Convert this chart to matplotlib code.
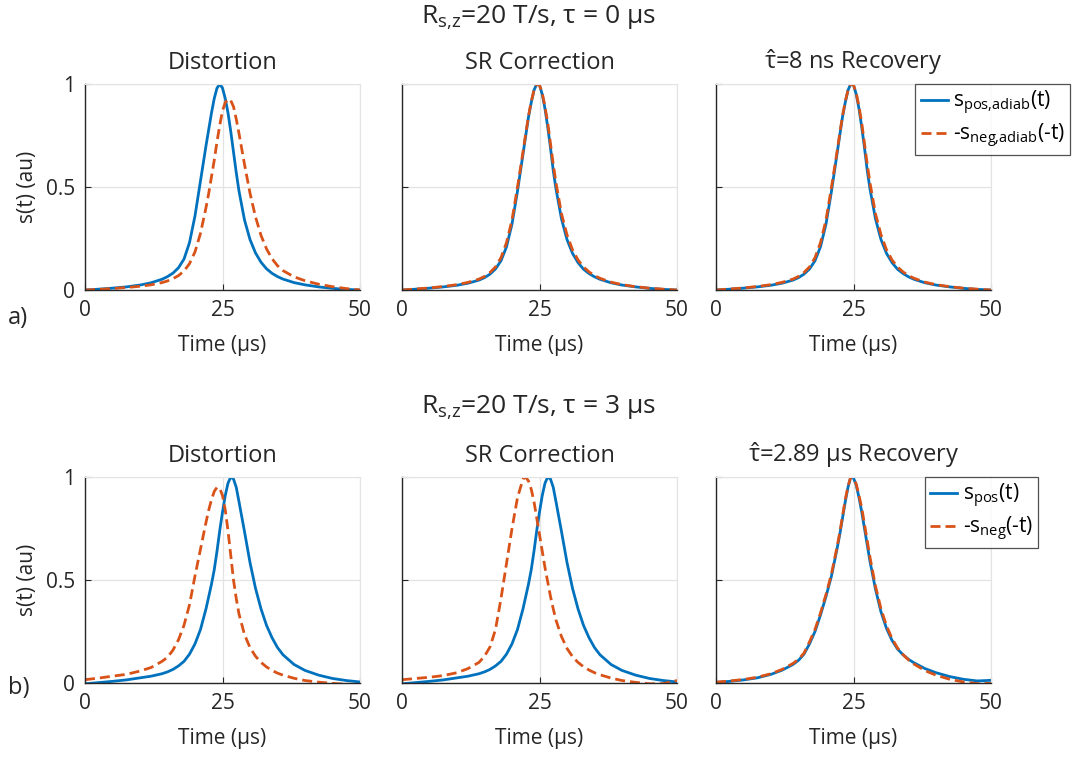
import matplotlib
matplotlib.use("Agg")
import matplotlib.pyplot as plt

plt.rcParams['font.family'] = ['Open Sans', 'DejaVu Sans']
plt.rcParams['mathtext.fontset'] = 'custom'
plt.rcParams['mathtext.rm'] = 'Open Sans'
plt.rcParams['mathtext.it'] = 'Open Sans'
plt.rcParams['mathtext.bf'] = 'Open Sans'

# time axis (us), shared by every curve
t = [0, 2.5, 5, 7.5, 10, 12, 14, 15, 16, 17, 18, 19, 20, 21, 22, 22.5, 23, 23.5, 24, 24.5,
     25, 25.5, 26, 26.5, 27, 27.5, 28, 29, 30, 31, 32, 33, 34, 35, 36, 38, 40, 42.5, 45, 47.5, 50]

# row a) tau = 0 us
a_dist_pos = [0, 0.004, 0.009, 0.015, 0.024, 0.035, 0.052, 0.065, 0.082, 0.108, 0.15, 0.23, 0.36, 0.53,
              0.70, 0.78, 0.86, 0.93, 0.98, 1.0, 0.98, 0.93, 0.86, 0.77, 0.67, 0.57, 0.48, 0.34, 0.245,
              0.18, 0.135, 0.103, 0.081, 0.065, 0.053, 0.036, 0.025, 0.015, 0.008, 0.003, 0]
a_dist_neg = [0, 0.003, 0.007, 0.012, 0.018, 0.025, 0.036, 0.044, 0.055, 0.07, 0.092, 0.128, 0.185, 0.275,
              0.40, 0.47, 0.55, 0.63, 0.72, 0.80, 0.87, 0.91, 0.927, 0.92, 0.89, 0.83, 0.76, 0.61, 0.47,
              0.355, 0.265, 0.2, 0.152, 0.118, 0.094, 0.064, 0.045, 0.028, 0.016, 0.007, 0]
a_sr_pos = [0, 0.004, 0.009, 0.015, 0.023, 0.033, 0.048, 0.06, 0.077, 0.102, 0.142, 0.21, 0.32, 0.48,
            0.66, 0.75, 0.84, 0.91, 0.97, 1.0, 0.995, 0.95, 0.88, 0.79, 0.69, 0.58, 0.49, 0.345, 0.245,
            0.178, 0.133, 0.101, 0.08, 0.064, 0.052, 0.035, 0.024, 0.015, 0.008, 0.003, 0]
a_sr_neg = [0, 0.005, 0.010, 0.017, 0.026, 0.037, 0.053, 0.066, 0.085, 0.112, 0.157, 0.23, 0.34, 0.50,
            0.67, 0.76, 0.845, 0.915, 0.97, 1.0, 0.995, 0.955, 0.89, 0.81, 0.71, 0.61, 0.52, 0.37, 0.268,
            0.195, 0.146, 0.112, 0.088, 0.07, 0.057, 0.038, 0.026, 0.016, 0.009, 0.004, 0]
a_rec_pos = a_sr_pos
a_rec_neg = a_sr_neg

# row b) tau = 3 us
b_dist_pos = [-0.004, 0.002, 0.008, 0.015, 0.025, 0.033, 0.045, 0.054, 0.066, 0.083, 0.105, 0.14, 0.19,
              0.26, 0.36, 0.42, 0.48, 0.55, 0.64, 0.74, 0.83, 0.91, 0.97, 1.0, 0.99, 0.95, 0.88, 0.735,
              0.585, 0.46, 0.36, 0.28, 0.22, 0.172, 0.137, 0.09, 0.061, 0.038, 0.022, 0.012, 0.005]
b_dist_neg = [0.016, 0.024, 0.033, 0.042, 0.058, 0.075, 0.105, 0.125, 0.16, 0.21, 0.28, 0.38, 0.52,
              0.65, 0.78, 0.84, 0.89, 0.93, 0.95, 0.945, 0.91, 0.84, 0.74, 0.62, 0.50, 0.41, 0.335, 0.235,
              0.172, 0.13, 0.10, 0.078, 0.061, 0.048, 0.038, 0.023, 0.012, 0.004, -0.002, -0.006, -0.008]
b_sr_pos = b_dist_pos
b_sr_neg = [0.016, 0.022, 0.028, 0.036, 0.05, 0.07, 0.10, 0.13, 0.175, 0.26, 0.41, 0.58, 0.75, 0.90,
            0.99, 1.0, 0.98, 0.94, 0.88, 0.80, 0.72, 0.64, 0.56, 0.49, 0.42, 0.36, 0.305, 0.225, 0.168,
            0.128, 0.1, 0.079, 0.063, 0.05, 0.04, 0.024, 0.012, 0.003, -0.004, -0.003, 0.012]
b_rec_pos = [0.003, 0.008, 0.015, 0.025, 0.042, 0.062, 0.09, 0.11, 0.14, 0.19, 0.25, 0.33, 0.42, 0.52,
             0.65, 0.72, 0.80, 0.88, 0.95, 1.0, 0.995, 0.96, 0.90, 0.83, 0.75, 0.67, 0.59, 0.455, 0.345,
             0.265, 0.207, 0.165, 0.137, 0.115, 0.098, 0.07, 0.05, 0.031, 0.018, 0.01, 0.013]
b_rec_neg = [0.004, 0.01, 0.017, 0.028, 0.045, 0.066, 0.095, 0.115, 0.145, 0.2, 0.26, 0.34, 0.43, 0.53,
             0.66, 0.73, 0.81, 0.89, 0.955, 1.0, 0.995, 0.965, 0.91, 0.85, 0.77, 0.69, 0.61, 0.47, 0.36,
             0.278, 0.216, 0.17, 0.138, 0.112, 0.092, 0.06, 0.038, 0.018, 0.005, -0.003, -0.002]

row_titles = ["R$_\\mathregular{s{,}z}$=20 T/s, τ = 0 μs", "R$_\\mathregular{s{,}z}$=20 T/s, τ = 3 μs"]
panel_titles = [["Distortion", "SR Correction", "$\\hat{\\tau}$=8 ns Recovery"],
                ["Distortion", "SR Correction", "$\\hat{\\tau}$=2.89 μs Recovery"]]
legend_labels = [["s$_\\mathregular{pos{,}adiab}$(t)", "-s$_\\mathregular{neg{,}adiab}$(-t)"],
                 ["s$_\\mathregular{pos}$(t)", "-s$_\\mathregular{neg}$(-t)"]]
row_tags = ["a)", "b)"]
curves = [[(a_dist_pos, a_dist_neg), (a_sr_pos, a_sr_neg), (a_rec_pos, a_rec_neg)],
          [(b_dist_pos, b_dist_neg), (b_sr_pos, b_sr_neg), (b_rec_pos, b_rec_neg)]]

BLUE = '#0072BD'
RED = '#D95319'
GRID = '#e3e3e3'
INK = '#262626'

W, H = 1075, 760
fig = plt.figure(figsize=(W / 100, H / 100), dpi=100)

col_left = [85, 402, 716]
ax_w = 275
row_top = [84, 477]
ax_h = 206

for r in range(2):
    for c in range(3):
        ax = fig.add_axes([col_left[c] / W, 1 - (row_top[r] + ax_h) / H, ax_w / W, ax_h / H])
        pos, neg = curves[r][c]
        l1, = ax.plot(t, pos, color=BLUE, lw=2.0)
        l2, = ax.plot(t, neg, color=RED, lw=2.0, dashes=(3.6, 1.8))
        ax.set_xlim(0, 50)
        ax.set_ylim(0, 1)
        ax.set_xticks([0, 25, 50])
        ax.set_xticklabels(['0', '25', '50'])
        ax.set_yticks([0, 0.5, 1])
        ax.grid(True, color=GRID, lw=0.9)
        ax.set_axisbelow(True)
        for s in ['top', 'right']:
            ax.spines[s].set_color(GRID)
        for s in ['left', 'bottom']:
            ax.spines[s].set_color(INK)
            ax.spines[s].set_linewidth(1.0)
        ax.tick_params(direction='in', length=4, width=0.8, colors=INK, labelsize=15)
        ax.tick_params(axis='x', pad=7)
        ax.tick_params(axis='y', pad=7)
        if c == 0:
            ax.set_yticklabels(['0', '0.5', '1'])
            ax.set_ylabel("s(t) (au)", fontsize=15, color=INK, labelpad=6)
        else:
            ax.set_yticklabels([])
        ax.set_xlabel("Time (μs)", fontsize=15, color=INK, labelpad=10)
        ax.set_title(panel_titles[r][c], fontsize=17, color=INK, pad=11)
        if c == 2:
            y_leg = [84, 477][r]
            x_leg = [1070, 1038][r]
            leg = ax.legend([l1, l2], legend_labels[r], loc='upper right',
                            bbox_to_anchor=(x_leg / W, 1 - y_leg / H),
                            bbox_transform=fig.transFigure, fontsize=15, frameon=True,
                            fancybox=False, borderpad=0.25, handlelength=1.3,
                            handletextpad=0.25, labelspacing=0.2, borderaxespad=0)
            leg.get_frame().set_edgecolor(INK)
            leg.get_frame().set_linewidth(0.9)

    fig.text(538 / W, 1 - [18, 408][r] / H, row_titles[r], fontsize=19, color=INK,
             ha='center', va='center')
    fig.text(8 / W, 1 - [318, 688][r] / H, row_tags[r], fontsize=17, color=INK,
             ha='left', va='center')

fig.savefig("out.png", dpi=100, facecolor='white')
